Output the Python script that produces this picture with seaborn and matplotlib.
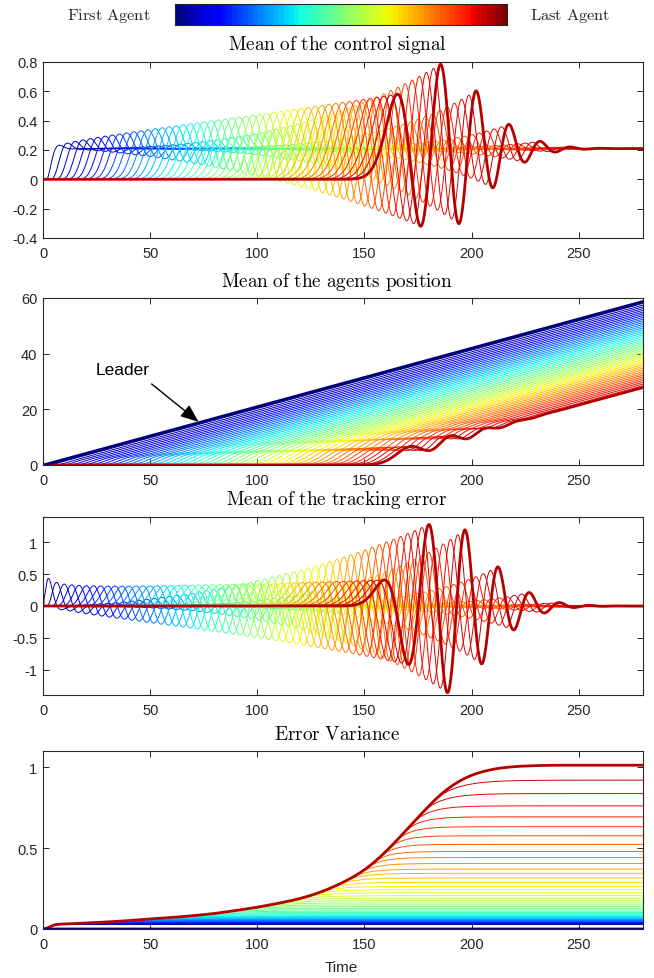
import numpy as np
import pandas as pd
import matplotlib
matplotlib.use("Agg")
import matplotlib.pyplot as plt
from matplotlib.colors import ListedColormap
from matplotlib.ticker import FuncFormatter
import seaborn as sns

# ---- platoon set-up ----
n_followers = 49
leader_speed = 0.21
leader_start = 0.5
headway = 3.0
speed_weight = 0.5          # weight of the speed mismatch inside the tracking error
stage_damping = 0.576
stage_natural_freq = 0.64
t_end = 280.0

# ---- error variance: envelope followed by the last follower ----
var_env_time = [0, 1, 3, 5.5, 8, 12, 20, 35, 50, 65, 80, 100, 115, 125, 134,
                142, 150, 158, 165, 175, 185, 192, 200, 210, 220, 235, 280]
var_env_value = [0, 0, 0.013, 0.027, 0.030, 0.032, 0.037, 0.047, 0.062, 0.076,
                 0.095, 0.134, 0.172, 0.205, 0.25, 0.30, 0.36, 0.45, 0.545,
                 0.69, 0.83, 0.90, 0.955, 0.99, 1.005, 1.012, 1.012]

# steady error variance of each follower, first -> last
final_variance = [0.028, 0.030, 0.032, 0.034, 0.036, 0.038, 0.040, 0.042, 0.044,
                  0.046, 0.049, 0.052, 0.055, 0.059, 0.063, 0.067, 0.072, 0.077,
                  0.082, 0.088, 0.095, 0.102, 0.110, 0.118, 0.128, 0.138, 0.149,
                  0.161, 0.175, 0.190, 0.206, 0.224, 0.243, 0.263, 0.288, 0.315,
                  0.344, 0.370, 0.405, 0.442, 0.479, 0.523, 0.576, 0.632, 0.693,
                  0.761, 0.837, 0.920, 1.012]

x_ticks = [0, 50, 100, 150, 200, 250]
ctrl_ticks = [-0.4, -0.2, 0, 0.2, 0.4, 0.6, 0.8]
pos_ticks = [0, 20, 40, 60]
err_ticks = [-1, -0.5, 0, 0.5, 1]
var_ticks = [0, 0.5, 1]

panel_titles = [r"$\mathrm{Mean\ of\ the\ control\ signal}$",
                r"$\mathrm{Mean\ of\ the\ agents\ position}$",
                r"$\mathrm{Mean\ of\ the\ tracking\ error}$",
                r"$\mathrm{Error\ Variance}$"]

sns.set_theme(style="white")
plt.rcParams["font.family"] = ["Liberation Sans", "DejaVu Sans"]
plt.rcParams["mathtext.fontset"] = "cm"

# ---- leader speed step propagated through the string of followers ----
dt = 0.05
n_fft = 2 ** 15
t_full = np.arange(n_fft) * dt
w = 2 * np.pi * np.fft.rfftfreq(n_fft, dt)
wn = stage_natural_freq
lag = headway - 2 * stage_damping / wn
stage = np.exp(-1j * w * lag) * wn ** 2 / (wn ** 2 - w ** 2 + 2j * stage_damping * wn * w)
kick = np.zeros(n_fft)
kick[int(round(leader_start / dt))] = 1.0
kick_f = np.fft.rfft(kick)
order = np.arange(1, n_followers + 1)[:, None]
incr = np.fft.irfft(kick_f[None, :] * stage[None, :] ** order, n=n_fft)

keep = t_full <= t_end + 1e-9
t = t_full[keep]
vel = leader_speed * np.cumsum(incr, axis=1)[:, keep]
pos = np.cumsum(vel, axis=1) * dt
leader_vel = leader_speed * (t >= leader_start)
leader_pos = leader_speed * np.clip(t - leader_start, 0, None)
ahead_pos = np.vstack([leader_pos, pos[:-1]])
ahead_vel = np.vstack([leader_vel, vel[:-1]])
err = (ahead_pos - pos - headway * vel) + speed_weight * (ahead_vel - vel)

# ---- error variance curves ----
env_raw = np.interp(t, var_env_time, var_env_value)


def smooth(y, sigma):
    half = int(4 * sigma / dt)
    kern = np.exp(-0.5 * (np.arange(-half, half + 1) * dt / sigma) ** 2)
    kern /= kern.sum()
    return np.convolve(np.pad(y, half, mode="edge"), kern, mode="valid")


blend = np.clip((t - 15) / 20, 0, 1)
env = (1 - blend) * smooth(env_raw, 0.8) + blend * smooth(env_raw, 4.0)
slope = np.gradient(env, dt)
var = np.empty((n_followers, t.size))
for i, level in enumerate(final_variance):
    if i == n_followers - 1:
        var[i] = env
        continue
    j = int(np.searchsorted(env, 0.85 * level))
    gap = level - env[j]
    s = max(slope[j], 1e-6)
    curve = env.copy()
    curve[j:] = level - gap * np.exp(-(t[j:] - t[j]) * s / gap)
    var[i] = curve

# ---- colours ----
colors = plt.cm.jet(np.linspace(0, 0.95, n_followers + 1))
agents = np.arange(1, n_followers + 1)
thin_palette = {k: colors[k] for k in agents[:-1]}


def long_frame(values, stride=2):
    ts = t[::stride]
    return pd.DataFrame({"t": np.tile(ts, n_followers),
                         "value": values[:, ::stride].ravel(),
                         "agent": np.repeat(agents, ts.size)})


def draw_agents(ax, values):
    frame = long_frame(values)
    thin = frame[frame.agent < n_followers]
    sns.lineplot(data=thin, x="t", y="value", hue="agent", palette=thin_palette,
                 estimator=None, sort=False, legend=False, linewidth=0.7, ax=ax)
    last = frame[frame.agent == n_followers]
    sns.lineplot(data=last, x="t", y="value", color=colors[-1], estimator=None,
                 sort=False, legend=False, linewidth=2.0, ax=ax)


def style_axes(ax, ylim, yticks):
    ax.set_xlim(0, t_end)
    ax.set_ylim(*ylim)
    ax.set_xticks(x_ticks)
    ax.set_yticks(yticks)
    fmt = FuncFormatter(lambda v, p: f"{v:g}")
    ax.xaxis.set_major_formatter(fmt)
    ax.yaxis.set_major_formatter(fmt)
    ax.tick_params(direction="in", length=4, width=0.7, top=True, right=True,
                   bottom=True, left=True, labelsize=10.5, colors="#262626")
    ax.tick_params(axis="x", pad=6)
    ax.tick_params(axis="y", pad=4)
    ax.set_xlabel("")
    ax.set_ylabel("")
    for sp in ax.spines.values():
        sp.set_visible(True)
        sp.set_color("#262626")
        sp.set_linewidth(0.8)


W, H = 654, 979
fig = plt.figure(figsize=(W / 100, H / 100), dpi=100)


def add_panel(top, bottom):
    return fig.add_axes([43 / W, 1 - bottom / H, 600 / W, (bottom - top) / H])


ax1 = add_panel(63, 239)
ax2 = add_panel(299, 466)
ax3 = add_panel(518, 696)
ax4 = add_panel(752, 930)

draw_agents(ax1, vel)
style_axes(ax1, (-0.4, 0.8), ctrl_ticks)

draw_agents(ax2, pos)
sns.lineplot(x=t, y=leader_pos, color=colors[0], linewidth=2.2, ax=ax2)
style_axes(ax2, (0, 60), pos_ticks)
ax2.text(37, 34.3, "Leader", fontsize=12.5, ha="center", va="center", color="black")
ax2.annotate("", xy=(72.6, 15.5), xytext=(50.7, 29.1),
             arrowprops=dict(arrowstyle="-|>,head_length=0.55,head_width=0.22",
                             mutation_scale=20, color="black", lw=1.0,
                             shrinkA=0, shrinkB=0))

draw_agents(ax3, err)
style_axes(ax3, (-1.4, 1.4), err_ticks)

draw_agents(ax4, var)
sns.lineplot(x=t, y=np.zeros_like(t), color=colors[0], linewidth=2.0, ax=ax4)
style_axes(ax4, (0, 1.1), var_ticks)

for txt, yc in zip(panel_titles, [45, 282, 500, 735]):
    fig.text(337 / W, 1 - yc / H, txt, ha="center", va="center", fontsize=13.8,
             color="black")
fig.text(341 / W, 1 - 968 / H, "Time", ha="center", va="center", fontsize=11,
         color="#262626")

# ---- colour key ----
cax = fig.add_axes([175 / W, 1 - 26 / H, 332 / W, 21 / H])
cax.imshow(np.linspace(0, 1, 256)[None, :], aspect="auto",
           cmap=ListedColormap(plt.cm.jet(np.linspace(0, 1, 64))))
cax.set_xticks([])
cax.set_yticks([])
for sp in cax.spines.values():
    sp.set_visible(True)
    sp.set_color("#262626")
    sp.set_linewidth(0.8)
fig.text(109 / W, 1 - 16 / H, r"$\mathrm{First\ Agent}$", ha="center", va="center",
         fontsize=11.8)
fig.text(570 / W, 1 - 16 / H, r"$\mathrm{Last\ Agent}$", ha="center", va="center",
         fontsize=11.8)

fig.savefig("out.png", dpi=100)
